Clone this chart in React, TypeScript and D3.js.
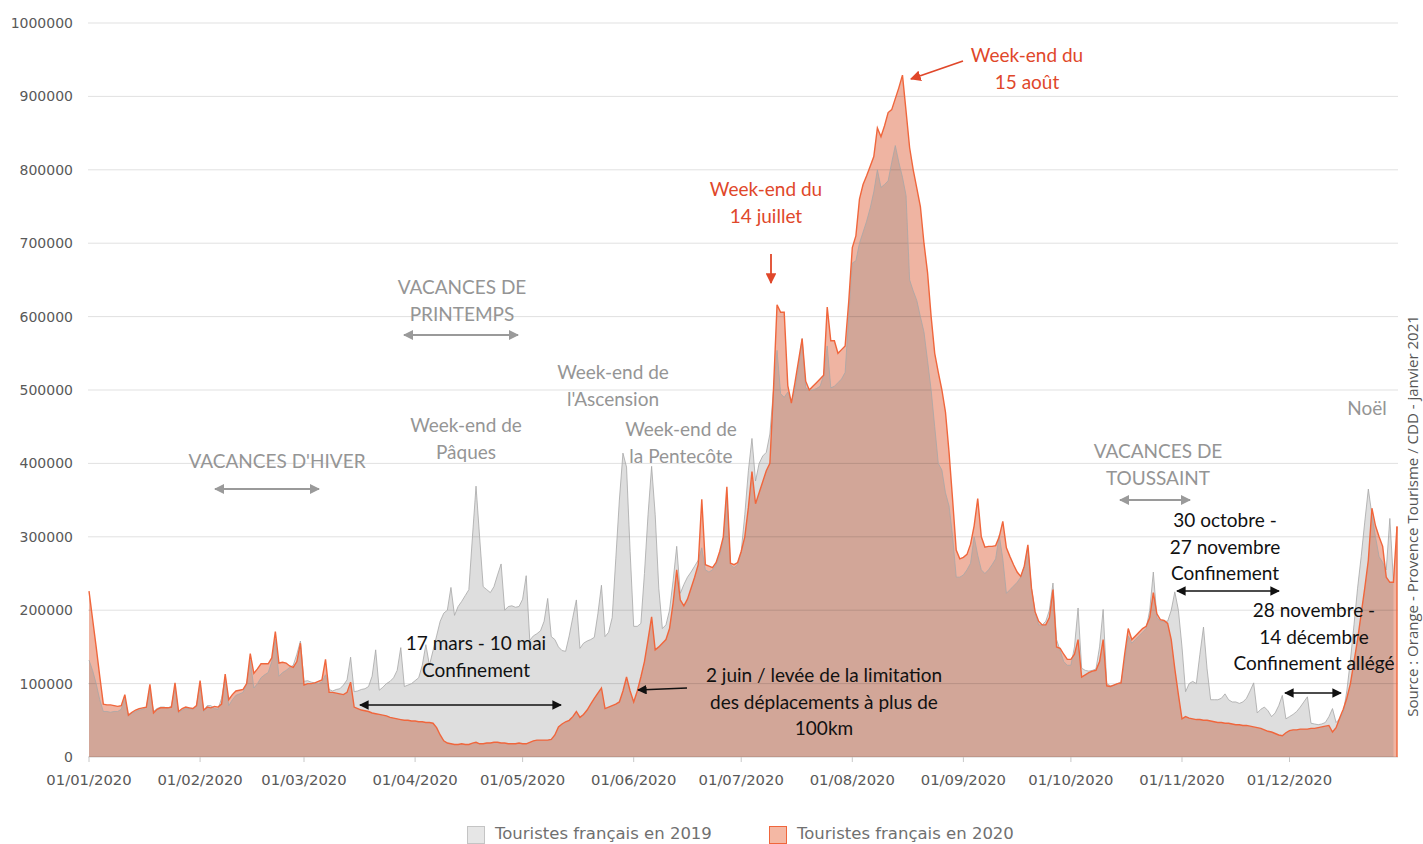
import React from "react";
import * as d3 from "d3";

// Daily number of French tourists, index = day of year (0 = 1 January)
const tourists2020: number[] = [
  226000, 188000, 150000, 110000, 72000, 71000, 71000, 70000, 69000, 70000,
  85000, 57000, 61000, 64000, 66000, 67000, 68000, 99000, 60000, 65000,
  67000, 67000, 67000, 68000, 101000, 62000, 66000, 68000, 67000, 66000,
  70000, 104000, 64000, 68000, 67000, 69000, 68000, 72000, 113000, 78000,
  85000, 90000, 91000, 92000, 100000, 141000, 114000, 120000, 127000, 127000,
  127000, 135000, 171000, 128000, 129000, 128000, 124000, 122000, 130000, 155000,
  98000, 100000, 100000, 101000, 103000, 105000, 133000, 88000, 88000, 87000,
  86000, 85000, 88000, 102000, 68000, 66000, 64000, 63000, 62000, 60000,
  59000, 58000, 57000, 56000, 54000, 53000, 52000, 51000, 50000, 50000,
  49000, 49000, 48000, 48000, 47000, 47000, 46000, 40000, 30000, 22000,
  19000, 18000, 17000, 17000, 18000, 17000, 17000, 19000, 20000, 18000,
  18000, 19000, 19000, 20000, 20000, 19000, 19000, 18000, 18000, 18000,
  19000, 18000, 18000, 20000, 22000, 23000, 23000, 23000, 23000, 24000,
  30000, 41000, 45000, 48000, 50000, 55000, 62000, 54000, 58000, 64000,
  72000, 80000, 87000, 94000, 66000, 68000, 70000, 72000, 75000, 90000,
  109000, 90000, 75000, 90000, 109000, 130000, 160000, 191000, 146000, 150000,
  155000, 160000, 175000, 210000, 255000, 214000, 206000, 215000, 230000, 245000,
  262000, 351000, 262000, 260000, 258000, 265000, 280000, 300000, 368000, 264000,
  262000, 265000, 280000, 300000, 340000, 389000, 345000, 360000, 375000, 390000,
  400000, 500000, 616000, 606000, 606000, 506000, 482000, 510000, 540000, 570000,
  512000, 500000, 505000, 510000, 515000, 520000, 613000, 567000, 567000, 550000,
  555000, 560000, 620000, 694000, 710000, 760000, 780000, 792000, 805000, 818000,
  857000, 845000, 860000, 878000, 882000, 897000, 912000, 929000, 880000, 830000,
  800000, 775000, 750000, 700000, 660000, 600000, 550000, 524000, 500000, 470000,
  415000, 350000, 282000, 270000, 272000, 276000, 290000, 315000, 352000, 300000,
  286000, 287000, 287000, 288000, 300000, 321000, 285000, 273000, 262000, 252000,
  246000, 260000, 289000, 230000, 198000, 185000, 180000, 180000, 190000, 228000,
  150000, 148000, 140000, 133000, 133000, 140000, 160000, 109000, 112000, 115000,
  117000, 118000, 130000, 160000, 97000, 96000, 98000, 100000, 101000, 140000,
  175000, 160000, 165000, 170000, 175000, 178000, 190000, 224000, 195000, 187000,
  186000, 182000, 160000, 120000, 85000, 52000, 55000, 53000, 52000, 51000,
  51000, 50000, 50000, 49000, 48000, 47000, 47000, 46000, 46000, 45000,
  44000, 44000, 43000, 43000, 42000, 41000, 40000, 39000, 37000, 35000,
  34000, 32000, 30000, 29000, 33000, 36000, 37000, 37000, 38000, 38000,
  38000, 39000, 39000, 40000, 41000, 42000, 43000, 34000, 40000, 53000,
  65000, 80000, 100000, 130000, 160000, 195000, 230000, 268000, 339000, 315000,
  300000, 287000, 245000, 238000, 238000, 314000,
];

const tourists2019: number[] = [
  132000, 118000, 100000, 78000, 62000, 62000, 61000, 62000, 62000, 65000,
  80000, 56000, 60000, 62000, 64000, 65000, 68000, 92000, 62000, 66000,
  68000, 68000, 66000, 70000, 95000, 60000, 64000, 66000, 66000, 65000,
  70000, 100000, 62000, 70000, 70000, 66000, 65000, 80000, 108000, 70000,
  78000, 84000, 86000, 88000, 100000, 132000, 94000, 100000, 108000, 112000,
  115000, 130000, 160000, 110000, 115000, 118000, 122000, 125000, 140000, 158000,
  103000, 104000, 102000, 101000, 100000, 102000, 112000, 92000, 90000, 92000,
  93000, 98000, 105000, 136000, 89000, 90000, 92000, 93000, 96000, 110000,
  146000, 91000, 95000, 100000, 103000, 108000, 118000, 149000, 96000, 98000,
  100000, 104000, 108000, 125000, 153000, 125000, 145000, 165000, 185000, 196000,
  200000, 231000, 193000, 205000, 212000, 220000, 228000, 300000, 369000, 300000,
  232000, 228000, 224000, 232000, 248000, 263000, 200000, 205000, 206000, 204000,
  205000, 215000, 247000, 159000, 165000, 168000, 172000, 185000, 216000, 164000,
  160000, 150000, 145000, 144000, 165000, 190000, 214000, 148000, 155000, 158000,
  160000, 163000, 195000, 234000, 164000, 170000, 190000, 270000, 350000, 414000,
  395000, 280000, 178000, 178000, 182000, 250000, 330000, 396000, 330000, 230000,
  175000, 180000, 200000, 240000, 287000, 223000, 235000, 245000, 252000, 260000,
  268000, 285000, 255000, 252000, 255000, 262000, 275000, 295000, 355000, 262000,
  258000, 262000, 280000, 330000, 390000, 434000, 376000, 400000, 410000, 415000,
  440000, 500000, 554000, 495000, 490000, 497000, 485000, 500000, 530000, 570000,
  503000, 500000, 500000, 502000, 505000, 520000, 560000, 503000, 505000, 510000,
  515000, 524000, 600000, 673000, 676000, 700000, 715000, 730000, 748000, 770000,
  800000, 776000, 780000, 785000, 810000, 833000, 810000, 790000, 765000, 650000,
  635000, 622000, 600000, 579000, 540000, 500000, 450000, 400000, 391000, 360000,
  342000, 300000, 245000, 245000, 248000, 255000, 264000, 300000, 275000, 255000,
  250000, 255000, 262000, 270000, 302000, 270000, 223000, 228000, 233000, 238000,
  245000, 260000, 285000, 230000, 198000, 180000, 180000, 185000, 200000, 237000,
  160000, 145000, 130000, 125000, 125000, 150000, 203000, 121000, 118000, 117000,
  118000, 120000, 150000, 201000, 100000, 97000, 98000, 100000, 102000, 130000,
  165000, 155000, 160000, 165000, 170000, 175000, 200000, 252000, 190000, 185000,
  185000, 185000, 200000, 225000, 200000, 150000, 89000, 100000, 103000, 100000,
  140000, 177000, 120000, 78000, 78000, 78000, 80000, 86000, 78000, 75000,
  75000, 73000, 75000, 80000, 90000, 101000, 60000, 65000, 68000, 63000,
  55000, 60000, 70000, 84000, 52000, 55000, 58000, 62000, 68000, 75000,
  82000, 46000, 45000, 44000, 45000, 47000, 55000, 66000, 47000, 52000,
  60000, 90000, 132000, 180000, 230000, 273000, 320000, 365000, 330000, 300000,
  273000, 265000, 255000, 325000, 240000,
];

const yTickValues = [0, 100000, 200000, 300000, 400000, 500000, 600000, 700000, 800000, 900000, 1000000];
const monthStarts = d3.timeMonth.range(new Date(2020, 0, 1), new Date(2020, 11, 2));
const legendLabels = ["Touristes français en 2019", "Touristes français en 2020"];

const greyNotes = [
  { lines: ["VACANCES D'HIVER"], x: 277, y: 468 },
  { lines: ["VACANCES DE", "PRINTEMPS"], x: 462, y: 294 },
  { lines: ["Week-end de", "Pâques"], x: 466, y: 432 },
  { lines: ["Week-end de", "l'Ascension"], x: 613, y: 379 },
  { lines: ["Week-end de", "la Pentecôte"], x: 681, y: 436 },
  { lines: ["VACANCES DE", "TOUSSAINT"], x: 1158, y: 458 },
  { lines: ["Noël"], x: 1367, y: 415 },
];
const redNotes = [
  { lines: ["Week-end du", "14 juillet"], x: 766, y: 196 },
  { lines: ["Week-end du", "15 août"], x: 1027, y: 62 },
];
const blackNotes = [
  { lines: ["17 mars - 10 mai", "Confinement"], x: 476, y: 650 },
  { lines: ["2 juin / levée de la limitation", "des déplacements à plus de", "100km"], x: 824, y: 682 },
  { lines: ["30 octobre -", "27 novembre", "Confinement"], x: 1225, y: 527 },
  { lines: ["28 novembre -", "14 décembre", "Confinement  allégé"], x: 1314, y: 617 },
];

const W = 1423;
const H = 844;
const START = new Date(2020, 0, 1);

export default function App() {
  const x = d3.scaleTime().domain([START, new Date(2020, 11, 31)]).range([89, 1397]);
  const y = d3.scaleLinear().domain([0, 1000000]).range([757, 23]);
  const xi = (i: number) => x(d3.timeDay.offset(START, i));

  const area = d3
    .area<number>()
    .x((_, i) => xi(i))
    .y0(y(0))
    .y1((v) => y(v));
  const line = d3
    .line<number>()
    .x((_, i) => xi(i))
    .y((v) => y(v));

  const fmt = d3.timeFormat("%d/%m/%Y");
  const left = 88;
  const right = 1398;
  const lineH = 26.5;

  const noteFont = "Lato, 'Open Sans', sans-serif";

  const renderNotes = (notes: { lines: string[]; x: number; y: number }[], fill: string) =>
    notes.map((n, k) => (
      <text key={k} x={n.x} y={n.y} textAnchor="middle" fontFamily={noteFont} fontSize={19} fill={fill}>
        {n.lines.map((l, j) => (
          <tspan key={j} x={n.x} dy={j === 0 ? 0 : lineH}>
            {l}
          </tspan>
        ))}
      </text>
    ));

  const lastOrange = tourists2020.length - 1;

  return (
    <svg width={W} height={H} style={{ position: "absolute", left: 0, top: 0, background: "#fff" }}>
      <defs>
        <marker id="hg" viewBox="0 0 10 10" refX="9" refY="5" markerWidth="5" markerHeight="5" orient="auto-start-reverse">
          <path d="M0,0 L10,5 L0,10 z" fill="#9a9a9a" />
        </marker>
        <marker id="hb" viewBox="0 0 10 10" refX="9" refY="5" markerWidth="6" markerHeight="6" orient="auto-start-reverse">
          <path d="M0,0 L10,5 L0,10 z" fill="#111" />
        </marker>
        <marker id="hr" viewBox="0 0 10 10" refX="9" refY="5" markerWidth="6" markerHeight="6" orient="auto-start-reverse">
          <path d="M0,0 L10,5 L0,10 z" fill="#e0472a" />
        </marker>
      </defs>

      {/* areas */}
      <path d={area(tourists2020) || ""} fill="#efb4a2" />
      <path d={area(tourists2019) || ""} fill="rgb(125,125,125)" fillOpacity={0.25} />

      {/* gridlines */}
      {yTickValues.map((t) => (
        <line key={t} x1={left} x2={right} y1={y(t)} y2={y(t)} stroke="#000" strokeOpacity={t === 0 ? 0.18 : 0.12} strokeWidth={1} />
      ))}

      <path d={line(tourists2019) || ""} fill="none" stroke="#a8a8a8" strokeOpacity={0.8} strokeWidth={1} />
      <path d={line(tourists2020) || ""} fill="none" stroke="#f0663c" strokeWidth={1.4} />
      <line x1={xi(lastOrange)} x2={xi(lastOrange)} y1={y(tourists2020[lastOrange])} y2={y(0)} stroke="#f0663c" strokeWidth={1.4} />

      {/* x ticks */}
      {monthStarts.map((m, k) => (
        <g key={k}>
          <line x1={x(m)} x2={x(m)} y1={y(0)} y2={y(0) + 5} stroke="#c8c8c8" />
          <text x={x(m)} y={785} textAnchor="middle" fontFamily="'DejaVu Sans', Verdana, sans-serif" fontSize={14.8} fill="#595959">
            {fmt(m)}
          </text>
        </g>
      ))}
      {/* y ticks */}
      {yTickValues.map((t) => (
        <text key={t} x={73} y={y(t) + 5} textAnchor="end" fontFamily="'DejaVu Sans', Verdana, sans-serif" fontSize={14} fill="#595959">
          {t}
        </text>
      ))}

      {/* annotations */}
      {renderNotes(greyNotes, "#959595")}
      {renderNotes(redNotes, "#e0472a")}
      {renderNotes(blackNotes, "#111")}

      {/* grey arrows */}
      <line x1={215} x2={319} y1={489} y2={489} stroke="#9a9a9a" strokeWidth={2} markerStart="url(#hg)" markerEnd="url(#hg)" />
      <line x1={404} x2={518} y1={335} y2={335} stroke="#9a9a9a" strokeWidth={2} markerStart="url(#hg)" markerEnd="url(#hg)" />
      <line x1={1120} x2={1190} y1={500} y2={500} stroke="#9a9a9a" strokeWidth={2} markerStart="url(#hg)" markerEnd="url(#hg)" />
      {/* black arrows */}
      <line x1={360} x2={561} y1={705} y2={705} stroke="#111" strokeWidth={1.6} markerStart="url(#hb)" markerEnd="url(#hb)" />
      <line x1={687} x2={638} y1={688} y2={690} stroke="#111" strokeWidth={1.6} markerEnd="url(#hb)" />
      <line x1={1177} x2={1279} y1={591} y2={591} stroke="#111" strokeWidth={1.6} markerStart="url(#hb)" markerEnd="url(#hb)" />
      <line x1={1285} x2={1341} y1={693} y2={693} stroke="#111" strokeWidth={1.6} markerStart="url(#hb)" markerEnd="url(#hb)" />
      {/* red arrows */}
      <line x1={771} x2={771} y1={254} y2={283} stroke="#e0472a" strokeWidth={1.8} markerEnd="url(#hr)" />
      <line x1={963} x2={911} y1={61} y2={79} stroke="#e0472a" strokeWidth={1.8} markerEnd="url(#hr)" />

      {/* source */}
      <text
        transform="translate(1418,516) rotate(-90)"
        textAnchor="middle"
        fontFamily="'Open Sans', sans-serif"
        fontSize={15}
        fill="#555"
      >
        Source : Orange - Provence Tourisme  / CDD - janvier 2021
      </text>

      {/* legend */}
      <rect x={467.5} y={826.5} width={17} height={17} fill="#e6e6e6" stroke="#c4c4c4" />
      <text x={495} y={839} fontFamily="'DejaVu Sans', sans-serif" fontSize={16.5} fill="#707070">
        {legendLabels[0]}
      </text>
      <rect x={769.5} y={826.5} width={17} height={17} fill="#f4b8a4" stroke="#f0663c" />
      <text x={797} y={839} fontFamily="'DejaVu Sans', sans-serif" fontSize={16.5} fill="#707070">
        {legendLabels[1]}
      </text>
    </svg>
  );
}
